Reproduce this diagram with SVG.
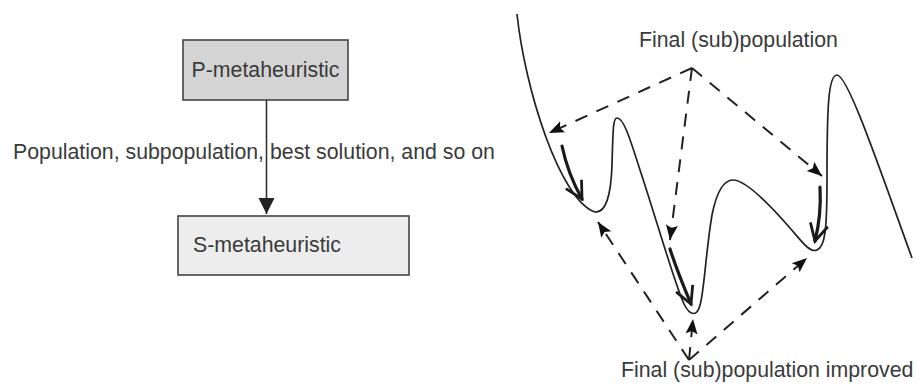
<svg xmlns="http://www.w3.org/2000/svg" width="917" height="385" viewBox="0 0 917 385">
  <style>
    text { font-family: "Liberation Sans", Arial, Helvetica, sans-serif; font-size: 21.3px; fill: #3a3a3a; }
    .box { stroke: #444; stroke-width: 1.6; }
    .flow { fill: none; stroke: #333; stroke-width: 1.6; }
    .land { fill: none; stroke: #222; stroke-width: 1.7; }
    .dash { fill: none; stroke: #222; stroke-width: 2; stroke-dasharray: 13 10; }
    .step { fill: none; stroke: #1a1a1a; stroke-width: 3.2; stroke-linecap: round; }
  </style>
  <defs>
    <marker id="headSolid" markerUnits="userSpaceOnUse" markerWidth="16" markerHeight="16" refX="16" refY="8" orient="auto" overflow="visible">
      <path d="M0,0 L16,8 L0,16 Z" fill="#222"/>
    </marker>
    <marker id="headDash" markerUnits="userSpaceOnUse" markerWidth="15" markerHeight="12" refX="15" refY="6" orient="auto" overflow="visible">
      <path d="M0,0 L15,6 L0,12 L3,6 Z" fill="#111"/>
    </marker>
    <marker id="headOpen" markerUnits="userSpaceOnUse" markerWidth="20" markerHeight="20" refX="0" refY="0" viewBox="-18 -10 20 20" orient="auto" overflow="visible">
      <path d="M-17,-9 L0,0 L-17,9" fill="none" stroke="#1a1a1a" stroke-width="2.8" stroke-linejoin="miter"/>
    </marker>
  </defs>

  <!-- relay hybrid: P-metaheuristic feeding an S-metaheuristic -->
  <g id="p-metaheuristic">
    <rect class="box" x="183" y="40" width="165" height="60" fill="#d4d4d4"/>
    <text x="265.5" y="77" text-anchor="middle">P-metaheuristic</text>
  </g>
  <g id="s-metaheuristic">
    <rect class="box" x="178" y="216" width="231" height="59" fill="#ededed"/>
    <text x="193" y="252">S-metaheuristic</text>
  </g>
  <g id="connectors">
    <line class="flow" x1="266.5" y1="100" x2="266.5" y2="214" marker-end="url(#headSolid)"/>
  </g>
  <text id="flow-label" x="13" y="158.5">Population, subpopulation, best solution, and so on</text>

  <!-- fitness landscape -->
  <path class="land" d="M517,14 C525,90 560,200 595,212
    C606,213 611,195 612,165 C613,130 613,118 617,118
    C623,118 628,132 640,170 C655,215 675,285 684,304
    C690,316 697,317 700,305 C704,293 706,250 712,215
    C717,190 725,180 733,180 C745,180 770,205 790,228
    C803,243 810,253 817,250 C825,247 827,230 827,180
    C827,110 828,75 837,75 C848,75 880,170 912,258"/>

  <!-- dashed: from the final (sub)population to the starting points -->
  <g id="dashed-start">
    <path class="dash" d="M692,68 L549,133" marker-end="url(#headDash)"/>
    <path class="dash" d="M692,68 L670,240" marker-end="url(#headDash)"/>
    <path class="dash" d="M692,68 L822,176" marker-end="url(#headDash)"/>
  </g>

  <!-- local search descents -->
  <g id="descents">
    <path class="step" d="M562,146 C566,165 573,183 582,199" marker-end="url(#headOpen)"/>
    <path class="step" d="M670,249 C676,268 683,285 691,304" marker-end="url(#headOpen)"/>
    <path class="step" d="M820,187 C821,205 819,225 815,241" marker-end="url(#headOpen)"/>
  </g>

  <!-- dashed: from the improved (sub)population to the reached minima -->
  <g id="dashed-improved">
    <path class="dash" d="M689,360 L598,222" marker-end="url(#headDash)"/>
    <path class="dash" d="M689,360 L693,319" marker-end="url(#headDash)"/>
    <path class="dash" d="M689,360 L807,258" marker-end="url(#headDash)"/>
  </g>

  <text id="label-final" x="639" y="47">Final (sub)population</text>
  <text id="label-improved" x="621" y="377">Final (sub)population improved</text>
</svg>
